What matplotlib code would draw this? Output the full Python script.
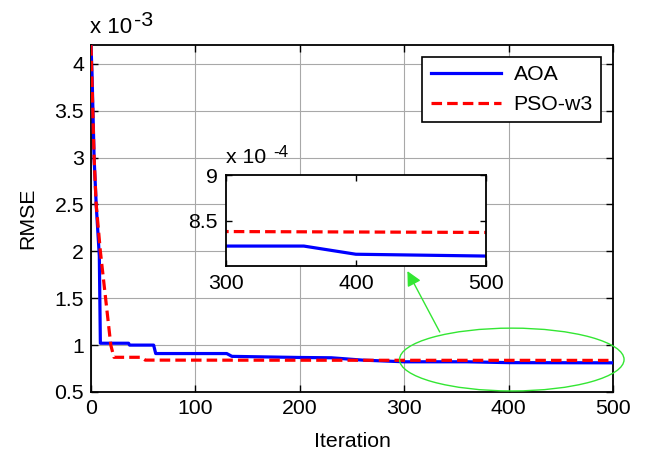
import numpy as np
import matplotlib
matplotlib.use('Agg')
import matplotlib.pyplot as plt
from matplotlib.patches import Ellipse

plt.rcParams['font.family'] = ['Liberation Sans', 'DejaVu Sans']

# ── Data (RMSE in units of 1e-3) ──────────────────────────────
aoa_iter = [0, 1, 3, 5, 8, 9, 36, 37, 60, 62, 130, 135, 200, 230, 260, 300, 360, 400, 500]
aoa_rmse = [4.2, 3.9, 3.0, 2.5, 1.95, 1.02, 1.02, 1.00, 1.00, 0.91, 0.91, 0.88, 0.868, 0.865,
            0.84, 0.822, 0.822, 0.813, 0.811]

pso_iter = [0, 3, 5, 9, 14, 19, 22, 48, 52, 300, 500]
pso_rmse = [4.2, 3.0, 2.5, 2.0, 1.5, 1.0, 0.87, 0.87, 0.84, 0.838, 0.837]

main_xticks = [0, 100, 200, 300, 400, 500]
main_yticks = [0.5, 1, 1.5, 2, 2.5, 3, 3.5, 4]
inset_xticks = [300, 400, 500]
inset_yticks = [8.5, 9]

FS = 15.3
BLUE = '#0000ff'
RED = '#ff0000'
GREEN = '#33e633'

fig = plt.figure(figsize=(6.47, 4.54), dpi=100)
ax = fig.add_axes([0.1406, 0.1366, 0.807, 0.764])

ax.plot(aoa_iter, aoa_rmse, color=BLUE, lw=2.3, label='AOA', zorder=3)
ax.plot(pso_iter, pso_rmse, color=RED, lw=2.3, dashes=(3.3, 1.6), label='PSO-w3', zorder=4)

ax.set_xlim(0, 500)
ax.set_ylim(0.5, 4.2)
ax.set_xticks(main_xticks)
ax.set_yticks(main_yticks)
ax.set_yticklabels(['0.5', '1', '1.5', '2', '2.5', '3', '3.5', '4'])
ax.tick_params(direction='in', top=True, right=True, length=5, width=1, labelsize=FS, pad=5)
ax.grid(True, color='#a8a8a8', lw=0.8)
for s in ax.spines.values():
    s.set_linewidth(1.3)
ax.set_xlabel('Iteration', fontsize=FS, labelpad=10)
ax.set_ylabel('RMSE', fontsize=FS, labelpad=12)

leg = ax.legend(loc='upper right', fontsize=FS, frameon=True, fancybox=False,
                edgecolor='black', framealpha=1, handlelength=3.3,
                borderaxespad=0.55, handletextpad=0.6, borderpad=0.4)
leg.get_frame().set_linewidth(1.2)

fig.text(0.139, 0.927, 'x 10', fontsize=FS * 1.05, va='baseline')
fig.text(0.2076, 0.942, '-3', fontsize=FS, va='baseline')

# ── Ellipse and arrow ─────────────────────────────────────────
ell = Ellipse((403, 0.846), 215, 0.67, fill=False, edgecolor=GREEN, lw=1.0,
              clip_on=False, zorder=5)
ax.add_patch(ell)
ax.annotate('', xy=(303, 1.79), xytext=(334, 1.14),
            arrowprops=dict(arrowstyle='-|>', color=GREEN, lw=1.0,
                            mutation_scale=22, shrinkA=0, shrinkB=0),
            annotation_clip=False, zorder=5)

# ── Inset (units of 1e-4) ─────────────────────────────────────
ins = fig.add_axes([0.349, 0.414, 0.402, 0.2])
ins.plot(aoa_iter, [v * 10 for v in aoa_rmse], color=BLUE, lw=2.3)
ins.plot(pso_iter, [v * 10 for v in pso_rmse], color=RED, lw=2.3, dashes=(3.3, 1.6))
ins.set_xlim(300, 500)
ins.set_ylim(8.0, 9.0)
ins.set_xticks(inset_xticks)
ins.set_yticks(inset_yticks)
ins.set_yticklabels(['8.5', '9'])
ins.tick_params(direction='in', top=True, right=True, length=4, width=1, labelsize=FS, pad=6)
for s in ins.spines.values():
    s.set_linewidth(1.3)

fig.text(0.350, 0.640, 'x 10', fontsize=FS, va='baseline')
fig.text(0.422, 0.654, '-4', fontsize=FS * 0.8, va='baseline')

fig.savefig('out.png', dpi=100)
